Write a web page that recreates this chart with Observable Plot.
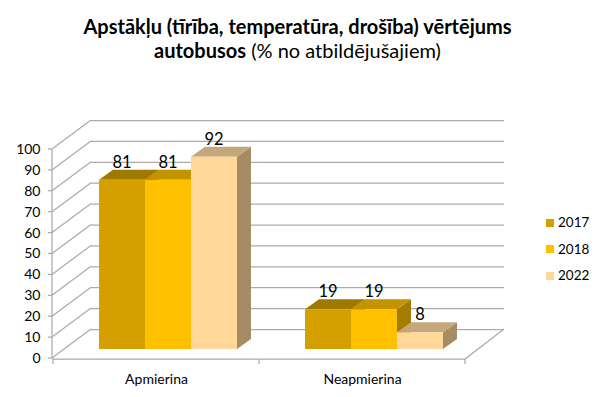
<!DOCTYPE html>
<html><head><meta charset="utf-8">
<script src="https://cdn.jsdelivr.net/npm/d3@7"></script>
<script src="https://cdn.jsdelivr.net/npm/@observablehq/plot@0.6"></script>
<style>
html,body{margin:0;padding:0;background:#fff;}
#wrap{position:relative;width:600px;height:397px;overflow:hidden;font-family:Lato,sans-serif;}
#title{position:absolute;left:0;top:14px;width:595px;text-align:center;font-size:20px;line-height:24px;color:#000;}
#chart{position:absolute;left:0;top:0;}
#legend{position:absolute;left:546px;top:212px;font-size:13.5px;color:#000;}
.item{height:26.7px;line-height:20px;white-space:nowrap;}
.sw{display:inline-block;width:8px;height:8px;margin-right:4px;vertical-align:middle;position:relative;top:-1px;}
</style></head><body>
<div id="wrap"><div id="chart"></div><div id="legend"></div><div id="title"><b>Apstākļu (tīrība, temperatūra, drošība) vērtējums</b><br><b>autobusos</b> (% no atbildējušajiem)</div></div>
<script>
// ---- data ----
const categories = ["Apmierina", "Neapmierina"];
const years = ["2017", "2018", "2022"];
const values2017 = [81, 19];
const values2018 = [81, 19];
const values2022 = [92, 8];
const yTicks = [0, 10, 20, 30, 40, 50, 60, 70, 80, 90, 100];

// ---- styling ----
const frontColors = ["#D4A000", "#FFC000", "#FFD899"];
const topColors = ["#A07A00", "#C49300", "#C4A87C"];
const sideColors = ["#8C6A00", "#A37D00", "#A68C64"];
const gridColor = "#ABABAB";
const WALL = {dx: 39, dy: -29};   // back wall depth offset (px)
const SHIFT = {dx: 12, dy: -9};   // bar front plane offset (px)
const DEPTH = {dx: 14, dy: -10};  // bar depth (px)

const seriesValues = [values2017, values2018, values2022];
const data = categories.flatMap((c, ci) =>
  years.map((yr, yi) => ({category: c, year: yr, yi, value: seriesValues[yi][ci]})));

function walls(index, scales, values, dims) {
  const {x, y} = scales;
  const g = d3.create("svg:g").attr("fill", "none").attr("stroke", gridColor).attr("stroke-width", 1.25);
  const x0 = dims.marginLeft, x1 = dims.width - dims.marginRight, y0 = y(0);
  for (const t of yTicks) {
    g.append("line").attr("x1", x0).attr("y1", y(t)).attr("x2", x0 + WALL.dx).attr("y2", y(t) + WALL.dy);
    g.append("line").attr("x1", x0 - 4).attr("y1", y(t)).attr("x2", x0).attr("y2", y(t));
  }
  g.append("line").attr("x1", x0).attr("y1", y(0)).attr("x2", x0).attr("y2", y(100));
  g.append("path").attr("d", `M${x0},${y0 + 1}H${x1}L${x1 + WALL.dx},${y0 + WALL.dy}`);
  const bounds = categories.map(c => x(c)).concat([x(categories[categories.length - 1]) + x.bandwidth()]);
  for (const b of bounds) g.append("line").attr("x1", b).attr("y1", y0 + 1).attr("x2", b).attr("y2", y0 + 6);
  return g.node();
}

function bars(index, scales) {
  const {x, y} = scales;
  const inner = d3.scaleBand(years, [0, x.bandwidth()]).paddingInner(0).paddingOuter(0.74);
  const bw = inner.bandwidth();
  const g = d3.create("svg:g");
  for (const d of data) {
    const L = x(d.category) + inner(d.year) + SHIFT.dx, R = L + bw;
    const T = y(d.value) + SHIFT.dy, B = y(0) + SHIFT.dy;
    g.append("path").attr("fill", sideColors[d.yi])
      .attr("d", `M${R},${T}L${R + DEPTH.dx},${T + DEPTH.dy}L${R + DEPTH.dx},${B + DEPTH.dy}L${R},${B}Z`);
    g.append("path").attr("fill", topColors[d.yi])
      .attr("d", `M${L},${T}L${R},${T}L${R + DEPTH.dx},${T + DEPTH.dy}L${L + DEPTH.dx},${T + DEPTH.dy}Z`);
    g.append("path").attr("fill", frontColors[d.yi])
      .attr("d", `M${L},${T}H${R}V${B}H${L}Z`);
  }
  for (const d of data) {
    const L = x(d.category) + inner(d.year) + SHIFT.dx;
    g.append("text").attr("x", L + bw / 2).attr("y", y(d.value) + SHIFT.dy - 18).attr("dy", "0.36em")
      .attr("text-anchor", "middle").attr("font-size", 16.5).attr("fill", "#000").text(d.value);
  }
  return g.node();
}

const chart = Plot.plot({
  width: 600, height: 397,
  marginLeft: 52, marginRight: 135, marginTop: 149, marginBottom: 39,
  style: {fontFamily: "Lato, sans-serif", fontSize: "14px", color: "#000", background: "transparent", overflow: "visible"},
  x: {type: "band", domain: categories, padding: 0, axis: null},
  y: {domain: [0, 100], axis: null},
  marks: [
    Plot.ruleY(yTicks, {y: d => d, dx: WALL.dx, dy: WALL.dy, stroke: gridColor, strokeWidth: 1.25}),
    walls,
    Plot.text(yTicks, {y: d => d, text: d => String(d), frameAnchor: "left", dx: -12, textAnchor: "end", fontSize: 14, fill: "#000"}),
    Plot.text(categories, {x: d => d, y: 0, text: d => d, dy: 21, fontSize: 14, fill: "#000"}),
    bars
  ]
});
document.getElementById("chart").appendChild(chart);

const leg = d3.select("#legend");
years.forEach((yr, i) => {
  const item = leg.append("div").attr("class", "item");
  item.append("span").attr("class", "sw").style("background", frontColors[i]);
  item.append("span").text(yr);
});
</script>
</body></html>
